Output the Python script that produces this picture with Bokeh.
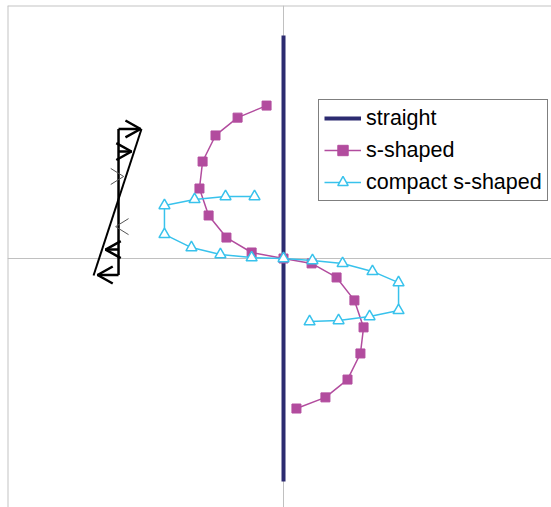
from bokeh.plotting import figure
from bokeh.models import Range1d, Span, Legend, LegendItem
from bokeh.embed import file_html
from bokeh.resources import INLINE

# --- deflected shapes (x = lateral deflection, y = height) ---
straight_x = [0.0, 0.0]
straight_y = [10.0, -10.0]

s_x = [-0.76, -2.06, -3.05, -3.63, -3.77, -3.36, -2.56, -1.43, 0.0,
       1.26, 2.38, 3.18, 3.59, 3.45, 2.87, 1.88, 0.58]
s_y = [6.86, 6.32, 5.52, 4.35, 3.14, 1.93, 0.94, 0.27, 0.0,
       -0.22, -0.85, -1.88, -3.09, -4.26, -5.43, -6.23, -6.73]

cs_x = [-1.30, -2.60, -3.99, -5.34, -5.34, -4.13, -2.83, -1.43, 0.0,
        1.30, 2.65, 3.99, 5.16, 5.16, 3.86, 2.47, 1.17]
cs_y = [2.78, 2.78, 2.65, 2.38, 1.08, 0.49, 0.18, 0.04, 0.0,
        -0.09, -0.22, -0.58, -1.08, -2.33, -2.60, -2.78, -2.83]

# --- linearly varying load sketch ---
load_base_x = -7.40
load_top_y = 5.81
load_bottom_y = -0.74
load_edge_x = [-6.37, -8.52]
load_edge_y = [5.81, -0.76]
major_arrow_y = [5.81, 4.80, 0.40, -0.74]
major_arrow_tip = [-6.41, -6.82, -7.98, -8.34]
minor_arrow_y = [3.68, 1.43]
minor_arrow_tip = [-7.17, -7.53]

NAVY = "#2C2B70"
MAGENTA = "#B24C9E"
CYAN = "#38C2EC"

p = figure(width=551, height=507, output_backend="svg", toolbar_location=None,
           x_range=Range1d(-12.38, 12.02), y_range=Range1d(-11.17, 11.35),
           x_axis_location=None, y_axis_location=None,
           min_border_left=7, min_border_top=5, min_border_right=0, min_border_bottom=0)
p.grid.visible = False
p.outline_line_color = None
p.background_fill_color = "white"
p.border_fill_color = "white"

# plot-area edges and the zero axes
for loc, dim in [(p.x_range.start, "height"), (p.y_range.end, "width")]:
    p.add_layout(Span(location=loc, dimension=dim, line_color="#C4C4C4", line_width=2, level="underlay"))
p.add_layout(Span(location=0, dimension="height", line_color="#C0C0C0", line_width=1, level="underlay"))
p.add_layout(Span(location=0, dimension="width", line_color="#C0C0C0", line_width=1, level="underlay"))


def heads(ys, tips, hl, hw):
    xs_out, ys_out = [], []
    for y, t in zip(ys, tips):
        d = 1 if t > load_base_x else -1
        xs_out.append([t - d * hl, t, t - d * hl])
        ys_out.append([y + hw, y, y - hw])
    return xs_out, ys_out


# load sketch outline
p.line([load_base_x, load_base_x], [load_top_y, load_bottom_y], line_color="black", line_width=2.5)
p.line(load_edge_x, load_edge_y, line_color="black", line_width=2)
p.multi_line([[load_base_x, t] for t in major_arrow_tip], [[y, y] for y in major_arrow_y],
             line_color="black", line_width=2.5)
hx, hy = heads(major_arrow_y, major_arrow_tip, 0.68, 0.38)
p.multi_line(hx, hy, line_color="black", line_width=2.5)
mx, my = heads(minor_arrow_y, minor_arrow_tip, 0.58, 0.36)
p.multi_line(mx, my, line_color="#555555", line_width=1)

# deflected shapes
r_straight = p.line(straight_x, straight_y, line_color=NAVY, line_width=4)
r_s_line = p.line(s_x, s_y, line_color=MAGENTA, line_width=1.5)
r_s_pts = p.scatter(s_x, s_y, marker="square", size=9, fill_color=MAGENTA, line_color=MAGENTA)
r_cs_line = p.line(cs_x, cs_y, line_color=CYAN, line_width=1.5)
r_cs_pts = p.scatter(cs_x, cs_y, marker="triangle", size=11, fill_color="white",
                     line_color=CYAN, line_width=1.5)

legend = Legend(items=[
    LegendItem(label="straight", renderers=[r_straight]),
    LegendItem(label="s-shaped", renderers=[r_s_line, r_s_pts]),
    LegendItem(label="compact s-shaped", renderers=[r_cs_line, r_cs_pts]),
], location=(311, 306), padding=5, spacing=6, margin=0,
    glyph_width=37, glyph_height=26, label_height=26, label_standoff=5,
    label_text_font="Liberation Sans", label_text_font_size="21.5px",
    label_text_color="black",
    border_line_color="black", border_line_width=1.5,
    background_fill_color="white", background_fill_alpha=1)
p.add_layout(legend)

open("out.html", "w").write(file_html(p, INLINE))
